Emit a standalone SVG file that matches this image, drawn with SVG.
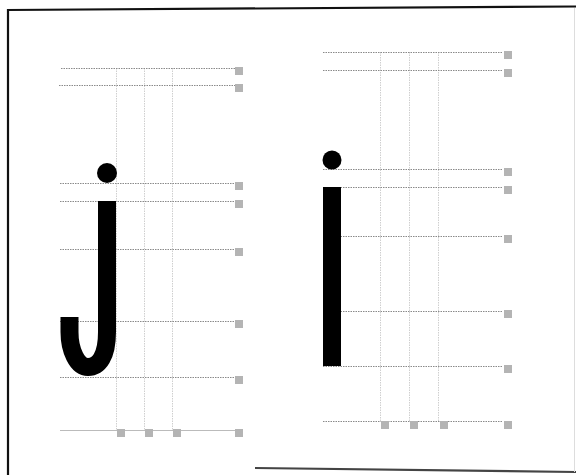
<svg xmlns="http://www.w3.org/2000/svg" width="576" height="475" viewBox="0 0 576 475">
<style>
.h{stroke:#8a8a8a;stroke-width:1;stroke-dasharray:1.5 1;fill:none}
.v{stroke:#cfcfcf;stroke-width:1;stroke-dasharray:1.5 1;fill:none}
.sq{fill:#b4b4b4}
.ink{fill:#000}
</style>
<rect width="576" height="475" fill="#fff"/>
<g id="frame">
<line x1="7" y1="10" x2="576" y2="6.5" stroke="#111" stroke-width="2.2"/>
<line x1="8" y1="9" x2="8" y2="475" stroke="#111" stroke-width="2.2"/>
<line x1="255" y1="468" x2="576" y2="472" stroke="#444" stroke-width="2.2"/>
<line x1="574.5" y1="8" x2="574.5" y2="472" stroke="#ddd" stroke-width="1"/>
</g>
<g id="panel-j">
<g class="grid">
<path class="v" d="M116.5,68V430M144.5,68V430M172.5,68V430"/>
<path class="h" d="M61,68.5H235M59,85.5H235M60,183.5H235M60,201.5H235M60,249.5H235M60,321.5H235M60,377.5H235"/>
<path d="M60,430.5H235" stroke="#bbb" stroke-width="1" fill="none"/>
<rect class="sq" x="235" y="67" width="8" height="8"/>
<rect class="sq" x="235" y="84" width="8" height="8"/>
<rect class="sq" x="235" y="182" width="8" height="8"/>
<rect class="sq" x="235" y="200" width="8" height="8"/>
<rect class="sq" x="235" y="248" width="8" height="8"/>
<rect class="sq" x="235" y="320" width="8" height="8"/>
<rect class="sq" x="235" y="376" width="8" height="8"/>
<rect class="sq" x="235" y="429" width="8" height="8"/>
<rect class="sq" x="117" y="429" width="8" height="8"/>
<rect class="sq" x="145" y="429" width="8" height="8"/>
<rect class="sq" x="173" y="429" width="8" height="8"/>
</g>
<circle class="ink" cx="107" cy="173" r="10"/>
<path d="M107,201 L107,332 C107,356 99,367 88,367 C77,367 69.5,350 69.5,332 L69.5,317" fill="none" stroke="#000" stroke-width="18"/>
</g>
<g id="panel-i">
<g class="grid">
<path class="v" d="M380.5,52V421M409.5,52V421M438.5,52V421"/>
<path class="h" d="M323,52.5H503M323,70.5H503M323,169.5H503M323,187.5H503M323,236.5H503M323,311.5H503M323,366.5H503M323,421.5H503"/>
<rect class="sq" x="504" y="51" width="8" height="8"/>
<rect class="sq" x="504" y="69" width="8" height="8"/>
<rect class="sq" x="504" y="168" width="8" height="8"/>
<rect class="sq" x="504" y="186" width="8" height="8"/>
<rect class="sq" x="504" y="235" width="8" height="8"/>
<rect class="sq" x="504" y="310" width="8" height="8"/>
<rect class="sq" x="504" y="365" width="8" height="8"/>
<rect class="sq" x="504" y="421" width="8" height="8"/>
<rect class="sq" x="381" y="421" width="8" height="8"/>
<rect class="sq" x="410" y="421" width="8" height="8"/>
<rect class="sq" x="440" y="421" width="8" height="8"/>
</g>
<circle class="ink" cx="332" cy="160" r="9.5"/>
<rect class="ink" x="323" y="187" width="18" height="179"/>
</g>
</svg>
